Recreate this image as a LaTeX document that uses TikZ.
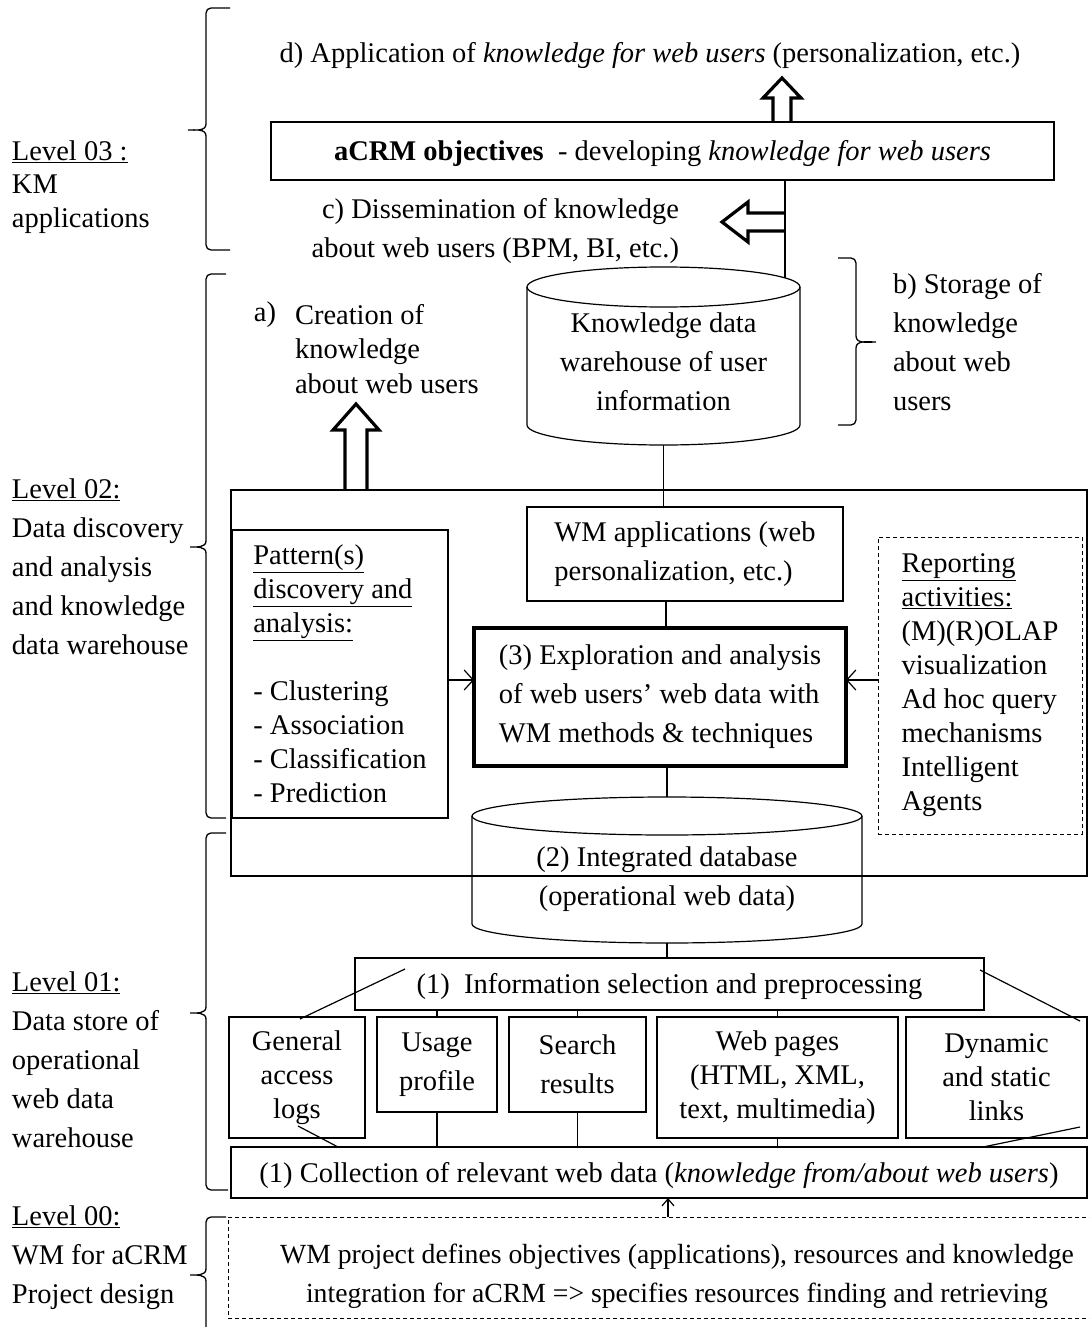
\documentclass[tikz,border=0pt]{standalone}
\usepackage{fontspec}
\setmainfont{Liberation Serif}
\usetikzlibrary{calc,arrows.meta}
\begin{document}
\begin{tikzpicture}[x=1pt,y=-1pt,
  every node/.style={inner sep=0pt,outer sep=0pt},
  txt/.style={font=\fontsize{28.5}{39}\selectfont},
  txtn/.style={font=\fontsize{28.5}{34}\selectfont},
  lowtxt/.style={execute at begin node={\rule{0pt}{25.5pt}}},
  ln/.style={line width=1.2pt},
  box/.style={draw,line width=1.2pt,rectangle},
  dbox/.style={draw,line width=1pt,dash pattern=on 4pt off 3pt},
  hollow/.style={line width=3.2pt,line join=miter},
  brc/.style={line width=1.3pt},
  tipv/.style={-{Straight Barb[length=9pt,width=20pt,line width=1.2pt]}},
  tipsmall/.style={-{Straight Barb[length=7pt,width=12pt,line width=1.2pt]}}
]
\clip (0,0) rectangle (1089,1327);
\fill[white] (0,0) rectangle (1089,1327);

% ---------- level labels and braces ----------
\node[txt,align=left,anchor=west,font=\fontsize{28.5}{33.5}\selectfont] (lv3) at (12,187) {\underline{Level 03 :}\\KM\\applications};
\node[txt,align=left,anchor=west] (lv2) at (12,567) {\underline{Level 02:}\\Data discovery\\and analysis\\and knowledge\\data warehouse};
\node[txt,align=left,anchor=west] (lv1) at (12,1060) {\underline{Level 01:}\\Data store of\\operational\\web data\\warehouse};
\node[txt,align=left,anchor=west] (lv0) at (12,1258) {\underline{Level 00:}\\WM for aCRM\\Project design};

\draw[brc] (230,8) -- (211,8) to[out=180,in=90] (206,13) -- (206,124) to[out=-90,in=0] (188,130) to[out=0,in=90] (206,136) -- (206,245) to[out=-90,in=180] (211,250) -- (230,250);
\draw[brc] (226,274) -- (211,274) to[out=180,in=90] (206,279) -- (206,541) to[out=-90,in=0] (190,547) to[out=0,in=90] (206,553) -- (206,813) to[out=-90,in=180] (211,818) -- (226,818);
\draw[brc] (226,833) -- (211,833) to[out=180,in=90] (206,838) -- (206,1007) to[out=-90,in=0] (190,1013) to[out=0,in=90] (206,1019) -- (206,1185) to[out=-90,in=180] (211,1190) -- (228,1190);
\draw[brc] (226,1217) -- (211,1217) to[out=180,in=90] (206,1222) -- (206,1269) to[out=-90,in=0] (190,1275) to[out=0,in=90] (206,1281) -- (206,1340);
\draw[brc] (838,258) -- (851,258) to[out=0,in=90] (856,263) -- (856,336) to[out=-90,in=180] (876,342) to[out=180,in=90] (856,348) -- (856,420) to[out=-90,in=0] (851,425) -- (838,425);

% ---------- level 03 ----------
\node[txt] (appl) at (650,56) {d) Application of \textit{knowledge for web users} (personalization, etc.)};
\node[box,txt,lowtxt,minimum width=783pt,minimum height=58pt] (acrm) at (662.5,151) {\textbf{aCRM objectives}\ \ - developing \textit{knowledge for web users}};
\node[txt,align=right,anchor=east] (diss) at (679,231) {c) Dissemination of knowledge\\about web users (BPM, BI, etc.)};

\draw[hollow] (773,122) -- (773,98) -- (763,98) -- (782,78) -- (801,98) -- (791,98) -- (791,122);
\draw[hollow] (785,213) -- (748,213) -- (748,202) -- (722,222) -- (748,242) -- (748,231) -- (785,231);

% ---------- knowledge data warehouse ----------
\draw[ln] (663.5,287) ellipse [x radius=136.5pt, y radius=20pt];
\draw[ln] (527,287) -- (527,425) arc[start angle=180, end angle=360, x radius=136.5pt, y radius=20pt] -- (800,287);
\node[txt,align=center] (kdw) at (663.5,362) {Knowledge data\\warehouse of user\\information};
\coordinate (kdwtop) at (785,278);
\coordinate (kdwbot) at (663.5,445);
\draw[ln] (acrm.south -| kdwtop) -- (kdwtop);

\node[txt,align=left,font=\fontsize{28.5}{34.5}\selectfont,anchor=west] (crea) at (295,349) {Creation of\\knowledge\\about web users};
\node[txt] (alab) at (265,315) {a)};
\node[txt,align=left,anchor=west] (stor) at (893,342) {b) Storage of\\knowledge\\about web\\users};

% ---------- level 02 ----------
\node[box,minimum width=856pt,minimum height=386pt] (lvl2) at (659,683) {};
\draw[hollow] (345,490) -- (345,430) -- (333,430) -- (356,404) -- (379,430) -- (367,430) -- (367,490);

\node[box,txt,align=left,minimum width=316pt,minimum height=94pt] (wmapp) at (685,554) {WM applications (web\\personalization, etc.)};
\draw[ln] (kdwbot) -- (wmapp.north -| kdwbot);

\node[draw,line width=4pt,txt,align=left,minimum width=372pt,minimum height=138pt] (explo) at (660,697) {(3) Exploration and analysis\\of web users’ web data with\\WM methods \& techniques};
\draw[ln] (wmapp.south -| 666,0) -- (explo.north -| 666,0);

\node[box,txtn,align=left,minimum width=216pt,minimum height=288pt] (pat) at (340,674) {\underline{Pattern(s)}\\\underline{discovery and}\\\underline{analysis:}\\[34pt]- Clustering\\- Association\\- Classification\\- Prediction};
\node[dbox,txtn,align=left,minimum width=204pt,minimum height=297pt] (rep) at (980,685.5) {\underline{Reporting}\\\underline{activities:}\\(M)(R)OLAP\\visualization\\Ad hoc query\\mechanisms\\Intelligent\\Agents};

\coordinate (ya) at (0,680);
\draw[ln,tipv] (pat.east |- ya) -- (explo.west |- ya);
\draw[ln,tipv] (rep.west |- ya) -- (explo.east |- ya);

% ---------- integrated database ----------
\draw[ln] (667,816) ellipse [x radius=195pt, y radius=19pt];
\draw[ln] (472,816) -- (472,924) arc[start angle=180, end angle=360, x radius=195pt, y radius=19pt] -- (862,816);
\node[txt,align=center] (idb) at (667,879.5) {(2) Integrated database\\(operational web data)};
\coordinate (idbtop) at (667,797);
\coordinate (idbbot) at (667,943);
\draw[ln] (explo.south -| idbtop) -- (idbtop);

% ---------- level 01 ----------
\node[box,txt,lowtxt,minimum width=629pt,minimum height=52pt] (info) at (669.5,984) {(1)\ \ Information selection and preprocessing};
\draw[ln] (idbbot) -- (info.north -| idbbot);

\node[box,txtn,lowtxt,align=center,minimum width=136pt,minimum height=121pt] (gen) at (297,1077.5) {General\\access\\logs};
\node[box,txt,align=center,minimum width=120pt,minimum height=95pt] (usage) at (437,1064.5) {Usage\\profile};
\node[box,txt,align=center,minimum width=137pt,minimum height=95pt] (search) at (577.5,1064.5) {Search\\results};
\node[box,txtn,align=center,minimum width=241pt,minimum height=121pt] (web) at (777.5,1077.5) {Web pages\\(HTML, XML,\\text, multimedia)};
\node[box,txtn,align=center,minimum width=181pt,minimum height=121pt] (dyn) at (996.5,1077.5) {Dynamic\\and static\\links};

\node[box,txt,lowtxt,minimum width=856pt,minimum height=51pt] (coll) at (659,1172.5) {(1) Collection of relevant web data (\textit{knowledge from/about web users})};

\draw[ln] (usage.north) -- (usage.north |- info.south);
\draw[ln] (search.north) -- (search.north |- info.south);
\draw[ln] (web.north) -- (web.north |- info.south);
\draw[ln] (usage.south) -- (usage.south |- coll.north);
\draw[ln] (search.south) -- (search.south |- coll.north);
\draw[ln] (web.south) -- (web.south |- coll.north);

\draw[ln] ($(info.north west)+(50,11)$) -- ($(gen.north)+(3,2)$);
\draw[ln] ($(gen.south)+(1,-12)$) -- ($(coll.north west)+(107,0)$);
\draw[ln] ($(info.north east)+(-4,12)$) -- ($(dyn.north east)+(-7,4)$);
\draw[ln] ($(dyn.south east)+(-7,-11)$) -- ($(coll.north west)+(752,0)$);

% ---------- level 00 ----------
\node[dbox,minimum width=872pt,minimum height=101pt] (proj) at (664,1267.5) {};
\node[txt,align=center,font=\fontsize{27.7}{39}\selectfont] (projtxt) at (677,1276.5) {WM project defines objectives (applications), resources and knowledge\\integration for aCRM => specifies resources finding and retrieving};
\draw[ln,tipsmall] (proj.north -| 668,0) -- (coll.south -| 668,0);
\end{tikzpicture}
\end{document}
